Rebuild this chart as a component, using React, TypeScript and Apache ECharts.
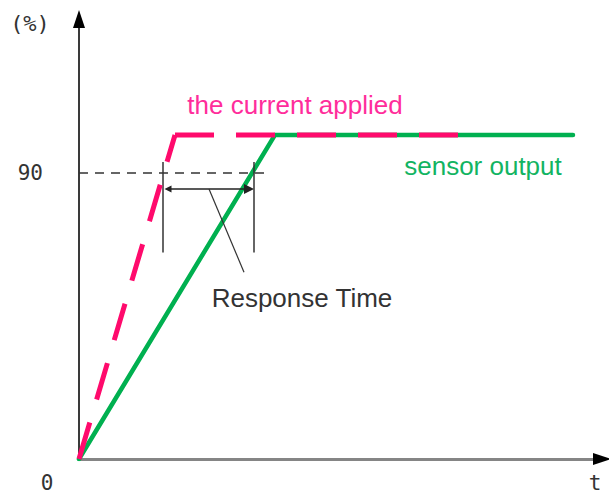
import { useEffect, useRef } from 'react';
import * as echarts from 'echarts';

// Data (time in arbitrary units, output in %)
const appliedRiseT = [0, 9.6];
const appliedRisePct = [0, 102];
const appliedHoldT = [9.6, 38];
const appliedHoldPct = [102, 102];
const sensorT = [0, 19.6, 49.4];
const sensorPct = [0, 102, 102];
const thresholdPct = 90;
const thresholdEndT = 18.8;
const responseT = [8.4, 17.5];
const bracketPct = [65, 93.5];
const arrowPct = 85;
const leaderT = [13.0, 16.5];
const leaderPct = [85, 58.8];
const yTickLabels = ['90'];
const axisMaxT = 52.2;
const axisMaxPct = 138.5;

const annotationTexts = ['the current applied', 'sensor output', 'Response Time'];
const axisTexts = ['(%)', '0', 't'];

const zip = (xs: number[], ys: number[]) => xs.map((x, i) => [x, ys[i]]);

export default function App() {
  const ref = useRef<HTMLDivElement>(null);
  useEffect(() => {
    const chart = echarts.init(ref.current!, null, { renderer: 'svg' });
    const ink = '#333333';
    const pink = '#ff0a6c';
    const green = '#00b050';
    chart.setOption({
      animation: false,
      grid: { left: 79, right: 8, top: 19, bottom: 36 },
      xAxis: {
        type: 'value',
        min: 0,
        max: axisMaxT,
        axisLine: {
          show: true,
          lineStyle: { color: '#858585', width: 3 },
        },
        axisTick: { show: false },
        axisLabel: { show: false },
        splitLine: { show: false },
      },
      yAxis: {
        type: 'value',
        min: 0,
        max: axisMaxPct,
        interval: thresholdPct,
        axisLine: {
          show: true,
          lineStyle: { color: '#3a3a3a', width: 2 },
        },
        axisTick: { show: false },
        splitLine: { show: false },
        axisLabel: {
          formatter: (v: number) => (yTickLabels.includes(String(v)) ? String(v) : ''),
          fontFamily: 'DejaVu Sans Mono',
          fontSize: 21,
          color: ink,
          margin: 36,
        },
      },
      series: [
        {
          type: 'line',
          data: [[0, thresholdPct], [thresholdEndT, thresholdPct]],
          showSymbol: false,
          silent: true,
          lineStyle: { color: ink, width: 1.5, type: [9, 7] },
          z: 2,
        },
        {
          type: 'line',
          data: zip(sensorT, sensorPct),
          showSymbol: false,
          silent: true,
          lineStyle: { color: green, width: 4.5, cap: 'round', join: 'round' },
          z: 3,
        },
        {
          type: 'line',
          data: [[responseT[0], bracketPct[0]], [responseT[0], bracketPct[1]]],
          showSymbol: false,
          silent: true,
          lineStyle: { color: ink, width: 1.5 },
          z: 4,
        },
        {
          type: 'line',
          data: [[responseT[1], bracketPct[0]], [responseT[1], bracketPct[1]]],
          showSymbol: false,
          silent: true,
          lineStyle: { color: ink, width: 1.5 },
          z: 4,
        },
        {
          type: 'line',
          data: zip(leaderT, leaderPct),
          showSymbol: false,
          silent: true,
          lineStyle: { color: ink, width: 1.2 },
          z: 4,
        },
        {
          type: 'lines',
          coordinateSystem: 'cartesian2d',
          silent: true,
          symbol: ['triangle', 'triangle'],
          symbolSize: [7, 10],
          lineStyle: { color: '#222', width: 1.5, opacity: 1 },
          data: [{ coords: [[responseT[0] + 0.5, arrowPct], [responseT[1] - 0.5, arrowPct]] }],
          z: 4,
        },
        {
          type: 'line',
          data: zip(appliedRiseT, appliedRisePct),
          showSymbol: false,
          silent: true,
          lineStyle: { color: pink, width: 5, type: [38, 24], cap: 'butt' },
          z: 5,
        },
        {
          type: 'line',
          data: zip(appliedHoldT, appliedHoldPct),
          showSymbol: false,
          silent: true,
          lineStyle: { color: pink, width: 5, type: [39, 22], cap: 'butt' },
          z: 5,
        },
      ],
    });

    const P = (t: number, p: number) =>
      chart.convertToPixel({ gridIndex: 0 }, [t, p]) as number[];

    const sans = 'Liberation Sans, Arial, sans-serif';
    const mono = 'DejaVu Sans Mono, monospace';
    const labels = [
      { text: annotationTexts[0], at: [21.6, 111.5], color: '#ff2d9b', font: sans, size: 26 },
      { text: annotationTexts[1], at: [40.4, 92.2], color: '#12b462', font: sans, size: 26 },
      { text: annotationTexts[2], at: [22.3, 50.6], color: ink, font: sans, size: 26 },
      { text: axisTexts[0], at: [-4.9, 137], color: ink, font: mono, size: 22 },
      { text: axisTexts[1], at: [-3.2, -7.6], color: ink, font: mono, size: 21 },
      { text: axisTexts[2], at: [51.6, -7.6], color: ink, font: mono, size: 21 },
    ];
    const yEnd = P(0, axisMaxPct);
    const xEnd = P(axisMaxT, 0);
    chart.setOption({
      graphic: [
        {
          type: 'polygon',
          silent: true,
          z: 10,
          shape: {
            points: [
              [yEnd[0], yEnd[1] - 9],
              [yEnd[0] + 6, yEnd[1] + 9],
              [yEnd[0] - 6, yEnd[1] + 9],
            ],
          },
          style: { fill: '#000' },
        },
        {
          type: 'polygon',
          silent: true,
          z: 10,
          shape: {
            points: [
              [xEnd[0] + 10, xEnd[1]],
              [xEnd[0] - 8, xEnd[1] - 6],
              [xEnd[0] - 8, xEnd[1] + 6],
            ],
          },
          style: { fill: '#000' },
        },
        ...labels.map((l) => {
          const [x, y] = P(l.at[0], l.at[1]);
          return {
            type: 'text',
            x,
            y,
            silent: true,
            style: {
              text: l.text,
              fill: l.color,
              fontFamily: l.font,
              fontSize: l.size,
              align: 'center',
              verticalAlign: 'middle',
            },
          };
        }),
      ],
    });
    return () => chart.dispose();
  }, []);
  return (
    <div
      ref={ref}
      style={{ position: 'fixed', left: 0, top: 0, width: 609, height: 495, background: '#fff' }}
    />
  );
}
